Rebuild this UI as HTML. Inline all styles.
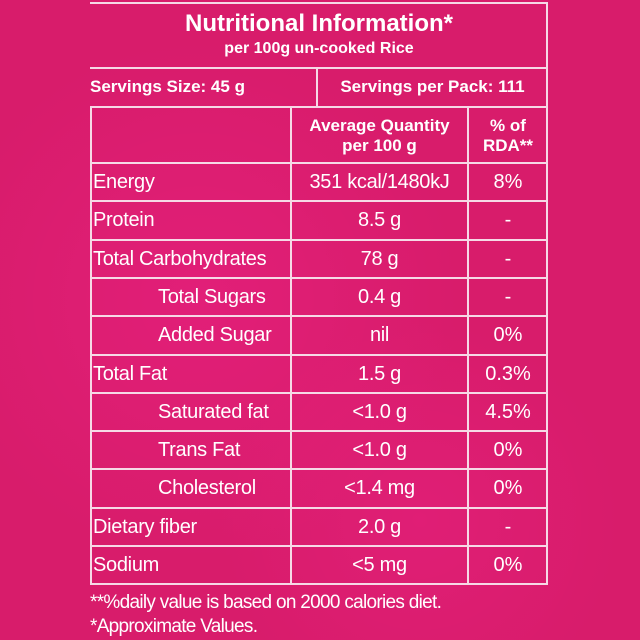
<!DOCTYPE html>
<html><head><meta charset="utf-8"><style>
body{margin:0;width:640px;height:640px;overflow:hidden;background:#d81c6b;font-family:"Liberation Sans",Arial,sans-serif;color:#fff;position:relative}
.bg{position:absolute;inset:0;background:radial-gradient(circle at 200px 300px,rgba(255,40,160,.25),transparent 260px),radial-gradient(circle at 420px 520px,rgba(255,40,160,.2),transparent 200px)}
.h{position:absolute;height:2px;background:#f6d9e6}
.v{position:absolute;width:2px;background:#f6d9e6}
.t{position:absolute;white-space:nowrap;font-size:20px;line-height:20px}
.c{text-align:center}
.b{font-weight:bold}
</style></head><body>
<div class="bg"></div>
<div>
<div class="h" style="left:90px;top:2px;width:458px"></div>
<div class="h" style="left:90px;top:67px;width:458px"></div>
<div class="h" style="left:90px;top:106px;width:458px"></div>
<div class="v" style="left:546px;top:2px;height:582px"></div>
<div class="v" style="left:316px;top:67px;height:40px"></div>
<div class="v" style="left:290px;top:106px;height:478px"></div>
<div class="v" style="left:467px;top:106px;height:478px"></div>
<div class="v" style="left:90px;top:106px;height:478px"></div>
<div class="t b c" style="left:90px;width:458px;top:11px;font-size:24px;line-height:26px">Nutritional Information*</div>
<div class="t b c" style="left:90px;width:458px;top:40px;font-size:16px;line-height:18px">per 100g un-cooked Rice</div>
<div class="t b" style="left:90px;top:77px;font-size:17px">Servings Size: 45 g</div>
<div class="t b c" style="left:318px;width:229px;top:77px;font-size:17px">Servings per Pack: 111</div>
<div class="t b c" style="left:292px;width:175px;top:116px;font-size:17px;line-height:20px">Average Quantity<br>per 100 g</div>
<div class="t b c" style="left:469px;width:78px;top:116px;font-size:17px;line-height:20px">% of<br>RDA**</div>
<div id="rows"></div>
</div>
<div class="t" style="left:90px;top:593px;font-size:19px;letter-spacing:-0.7px">**%daily value is based on 2000 calories diet.</div>
<div class="t" style="left:90px;top:617px;font-size:19px;letter-spacing:-0.7px">*Approximate Values.</div>
<script>
const names=["Energy","Protein","Total Carbohydrates","Total Sugars","Added Sugar","Total Fat","Saturated fat","Trans Fat","Cholesterol","Dietary fiber","Sodium"];
const indent=[0,0,0,1,1,0,1,1,1,0,0];
const qty=["351 kcal/1480kJ","8.5 g","78 g","0.4 g","nil","1.5 g","<1.0 g","<1.0 g","<1.4 mg","2.0 g","<5 mg"];
const rda=["8%","-","-","-","0%","0.3%","4.5%","0%","0%","-","0%"];
const root=document.getElementById('rows');
const top0=162,rh=38.3;
names.forEach((n,i)=>{
  const y=top0+i*rh;
  const l=document.createElement('div');l.className='h';l.style.cssText=`left:90px;top:${y}px;width:458px`;
  
  
  root.appendChild(l);
  const a=document.createElement('div');a.className='t';a.style.cssText=`left:${indent[i]?158:93}px;top:${y+10}px;letter-spacing:-0.3px`;a.textContent=n;
  
  
  root.appendChild(a);
  const b=document.createElement('div');b.className='t c';b.style.cssText=`left:292px;width:175px;top:${y+10}px;letter-spacing:-0.3px`;b.textContent=qty[i];
  
  
  root.appendChild(b);
  const c=document.createElement('div');c.className='t c';c.style.cssText=`left:469px;width:78px;top:${y+10}px`;c.textContent=rda[i];
  
  
  root.appendChild(c);
});
const e=document.createElement('div');e.className='h';e.style.cssText=`left:90px;top:${top0+names.length*rh}px;width:458px`;


root.appendChild(e);
</script>
</body></html>
